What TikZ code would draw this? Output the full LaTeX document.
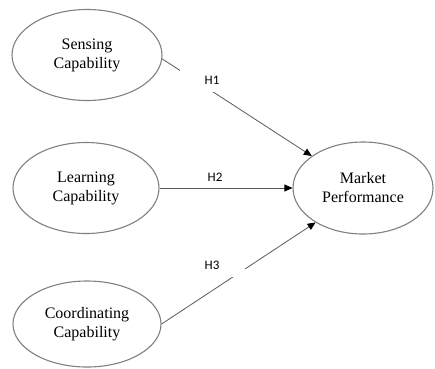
\documentclass[tikz,border=0pt]{standalone}
\usepackage{fontspec}
\setmainfont{Liberation Serif}
\newfontfamily\carlito{Carlito}
\usetikzlibrary{shapes.geometric}
\usetikzlibrary{arrows.meta}

\begin{document}
\begin{tikzpicture}[x=1pt,y=-1pt]
        \tikzset{capell/.style = {ellipse, draw=gray, line width=1.1pt, align=center, inner sep=0pt, font=\fontsize{16}{19}\selectfont}}
        \tikzset{hyp/.style = {-{Triangle[length=8pt,width=7pt,color=black]}, draw=gray!70!black, line width=0.8pt}}
        \tikzset{hbox/.style = {fill=white, minimum width=65pt, minimum height=24pt, inner sep=0pt, font=\carlito\fontsize{13}{15}\selectfont}}

        \useasboundingbox (0,0) rectangle (435,368);

        \node[capell, minimum width=150pt, minimum height=91pt] (sens) at (87,55) {Sensing\\Capability};
        \node[capell, minimum width=146pt, minimum height=91pt] (lrn) at (86,188) {Learning\\Capability};
        \node[capell, minimum width=148pt, minimum height=86pt] (coord) at (87,324) {Coordinating\\Capability};
        \node[capell, minimum width=140pt, minimum height=92pt] (mkt) at (363,188) {Market\\Performance};

        \draw[hyp] (sens.-3) -- (mkt.148);
        \draw[hyp] (lrn.east) -- (mkt.west);
        \draw[hyp] (coord.east) -- (mkt.216);

        \node[hbox] (h1) at (212,80) {H1};
        \node[hbox, fill=none] (h2) at (215,177) {H2};
        \node[hbox] (h3) at (212,265) {H3};

\end{tikzpicture}
\end{document}
